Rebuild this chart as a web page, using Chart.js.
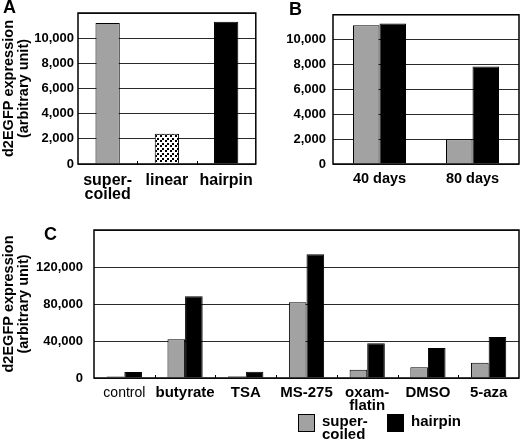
<!DOCTYPE html>
<html>
<head>
<meta charset="utf-8">
<script src="https://cdn.jsdelivr.net/npm/chart.js@4"></script>
<style>
  body { margin: 0; background: #fff; }
  #wrap { position: relative; width: 520px; height: 442px; }
  canvas { position: absolute; }
  .tag { position: absolute; font: bold 18px/18px 'Liberation Sans', Arial, sans-serif; color: #000; }
</style>
</head>
<body>
<div id="wrap">
  <canvas id="chartA" width="262" height="200" style="left:0;top:0"></canvas>
  <canvas id="chartB" width="258" height="200" style="left:262px;top:0"></canvas>
  <canvas id="chartC" width="520" height="242" style="left:0;top:200px"></canvas>
  <div class="tag" style="left:3px;top:-2px">A</div>
  <div class="tag" style="left:289px;top:0px">B</div>
  <div class="tag" style="left:44px;top:225px">C</div>
</div>
<script>
Chart.defaults.font.family = "'Liberation Sans', Arial, sans-serif";
Chart.defaults.color = '#000';

const yTitle = ['d2EGFP expression', '(arbitrary unit)'];

// panel A
const labelsA = [['super-', 'coiled'], 'linear', 'hairpin'];
const valuesA = [11200, 2400, 11300];

// panel B
const labelsB = ['40 days', '80 days'];
const supercoiledB = [11150, 2000];
const hairpinB = [11300, 7850];

// panel C
const labelsC = ['control', 'butyrate', 'TSA', 'MS-275', ['oxam-', 'flatin'], 'DMSO', '5-aza'];
const supercoiledC = [1600, 42000, 2000, 81800, 9000, 11500, 16500];
const hairpinC = [6500, 88300, 6800, 133700, 37500, 32400, 44300];
const legendNames = [['super-', 'coiled'], ['hairpin']];

const GRAY = '#a2a2a2';

// dotted fill for the "linear" bar
function dotPattern() {
  const c = document.createElement('canvas');
  c.width = 5; c.height = 5;
  const g = c.getContext('2d');
  g.fillStyle = '#fff';
  g.fillRect(0, 0, 5, 5);
  g.fillStyle = '#000';
  g.fillRect(0, 0, 2, 2);
  g.fillRect(2, 3, 2, 2);
  return g.createPattern(c, 'repeat');
}

const boxPlugin = {
  id: 'box',
  afterDatasetsDraw(chart, args, opts) {
    const { ctx, chartArea: a } = chart;
    ctx.save();
    ctx.strokeStyle = '#000';
    ctx.lineWidth = 1.5;
    ctx.strokeRect(a.left, a.top, a.right - a.left, a.bottom - a.top);
    if (opts.marks) {
      const n = chart.data.labels.length;
      const w = (a.right - a.left) / n;
      ctx.lineWidth = 1;
      for (let i = 1; i < n; i++) {
        const x = Math.round(a.left + w * i) + 0.5;
        ctx.beginPath();
        ctx.moveTo(x, a.bottom);
        ctx.lineTo(x, a.bottom - 3);
        ctx.stroke();
      }
    }
    ctx.restore();
  }
};

const legendPlugin = {
  id: 'boxLegend',
  afterDraw(chart, args, opts) {
    if (!opts.show) return;
    const ctx = chart.ctx;
    ctx.save();
    ctx.font = "bold 15px 'Liberation Sans', Arial, sans-serif";
    ctx.textBaseline = 'alphabetic';
    chart.data.datasets.forEach((ds, i) => {
      const x = opts.x[i];
      const y = opts.y;
      ctx.fillStyle = ds.backgroundColor;
      ctx.fillRect(x, y, 16, 17);
      ctx.strokeStyle = '#000';
      ctx.lineWidth = 1;
      ctx.strokeRect(x + 0.5, y + 0.5, 16, 17);
      ctx.fillStyle = '#000';
      legendNames[i].forEach((line, j) => {
        ctx.fillText(line, x + 24, y + 12 + j * 13);
      });
    });
    ctx.restore();
  }
};

function makeOptions(o) {
  return {
    responsive: false,
    animation: false,
    layout: { padding: o.padding },
    plugins: {
      legend: { display: false },
      tooltip: { enabled: false },
      box: { marks: o.marks },
      boxLegend: o.legend || { show: false }
    },
    scales: {
      x: {
        grid: { display: false, drawTicks: false },
        border: { display: false },
        ticks: {
          autoSkip: false,
          maxRotation: 0,
          padding: o.xPad,
          font: o.xFont
        },
        afterFit: s => { s.height = o.xHeight; }
      },
      y: {
        min: 0,
        max: o.yMax,
        grid: { color: '#2a2a2a', lineWidth: 1, drawTicks: false },
        border: { display: false },
        ticks: {
          stepSize: o.step,
          padding: o.yPad,
          font: { size: 13, weight: 'bold' },
          callback: v => (v % o.labelEvery === 0 && v !== o.yMax) ? v.toLocaleString('en-US') : ''
        },
        title: {
          display: !!o.title,
          text: o.title,
          font: { size: 14.5, weight: 'bold', lineHeight: 1.05 },
          padding: { top: 1, bottom: 0 }
        },
        afterFit: s => { s.width = o.yWidth; }
      }
    }
  };
}

new Chart(document.getElementById('chartA'), {
  type: 'bar',
  data: {
    labels: labelsA,
    datasets: [{
      data: valuesA,
      backgroundColor: [GRAY, dotPattern(), '#000'],
      borderColor: '#000',
      borderWidth: 1,
      barPercentage: 0.41,
      categoryPercentage: 1
    }]
  },
  options: makeOptions({
    padding: { left: 0, top: 13, right: 1, bottom: 0 },
    yMax: 12000, step: 2000, labelEvery: 2000, yPad: 4, yWidth: 78,
    xHeight: 36, xPad: 9, xFont: { size: 16, weight: 'bold', lineHeight: 0.9 },
    title: yTitle, marks: true
  }),
  plugins: [boxPlugin]
});

new Chart(document.getElementById('chartB'), {
  type: 'bar',
  data: {
    labels: labelsB,
    datasets: [
      { label: 'supercoiled', data: supercoiledB, backgroundColor: GRAY, borderColor: '#000', borderWidth: 1, barPercentage: 1, categoryPercentage: 0.57 },
      { label: 'hairpin', data: hairpinB, backgroundColor: '#000', borderColor: '#000', borderWidth: 1, barPercentage: 1, categoryPercentage: 0.57 }
    ]
  },
  options: makeOptions({
    padding: { left: 0, top: 14, right: 1, bottom: 0 },
    yMax: 12000, step: 2000, labelEvery: 2000, yPad: 7, yWidth: 71,
    xHeight: 36, xPad: 6, xFont: { size: 14.5, weight: 'bold' },
    title: null, marks: false
  }),
  plugins: [boxPlugin]
});

new Chart(document.getElementById('chartC'), {
  type: 'bar',
  data: {
    labels: labelsC,
    datasets: [
      { label: 'supercoiled', data: supercoiledC, backgroundColor: GRAY, borderColor: '#000', borderWidth: 1, barPercentage: 1, categoryPercentage: 0.58 },
      { label: 'hairpin', data: hairpinC, backgroundColor: '#000', borderColor: '#000', borderWidth: 1, barPercentage: 1, categoryPercentage: 0.58 }
    ]
  },
  options: makeOptions({
    padding: { left: 0, top: 30, right: 1, bottom: 0 },
    yMax: 160000, step: 20000, labelEvery: 40000, yPad: 11, yWidth: 94,
    xHeight: 64, xPad: 8,
    xFont: c => c.index === 0
      ? { size: 14, weight: 'normal', lineHeight: 0.95 }
      : { size: 15, weight: 'bold', lineHeight: 0.9 },
    title: yTitle, marks: true,
    legend: { show: true, x: [298, 387], y: 214 }
  }),
  plugins: [boxPlugin, legendPlugin]
});
</script>
</body>
</html>
